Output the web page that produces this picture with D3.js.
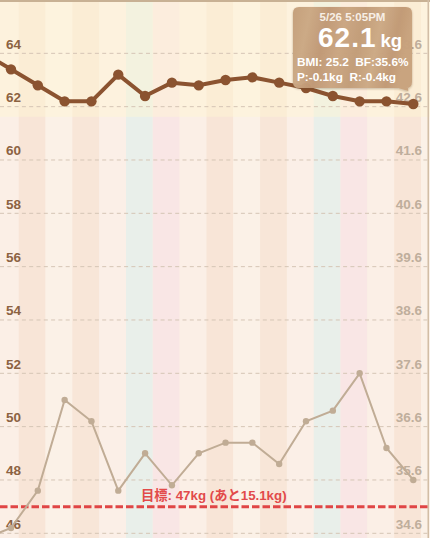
<!DOCTYPE html>
<html><head><meta charset="utf-8">
<script src="https://cdn.jsdelivr.net/npm/d3@7"></script>
<style>
html,body{margin:0;padding:0;background:#fbeee5;}
svg{display:block;}
text{font-family:"Liberation Sans",Arial,sans-serif;}
</style></head>
<body>
<svg id="chart" width="430" height="538"></svg>
<script>
// ---- data ----
const dates = ["2015-05-10","2015-05-11","2015-05-12","2015-05-13","2015-05-14","2015-05-15","2015-05-16","2015-05-17","2015-05-18","2015-05-19","2015-05-20","2015-05-21","2015-05-22","2015-05-23","2015-05-24","2015-05-25","2015-05-26"];
const times = ["17:05","17:05","17:05","17:05","17:05","17:05","17:05","17:05","17:05","17:05","17:05","17:05","17:05","17:05","17:05","17:05","17:05"];
const weight = [64.0,63.4,62.8,62.2,62.2,63.2,62.4,62.9,62.8,63.0,63.1,62.9,62.7,62.4,62.2,62.2,62.1];
const bodyFat = [34.5,34.7,35.4,37.1,36.7,35.4,36.1,35.5,36.1,36.3,36.3,35.9,36.7,36.9,37.6,36.2,35.6];
const viewRange = ["2015-05-11T07:15","2015-05-27T06:15"];
const weightTicks = [46,48,50,52,54,56,58,60,62,64];
const fatTicks = [34.6,35.6,36.6,37.6,38.6,39.6,40.6,41.6,42.6,43.6];
const goal = 47;
const goalLabel = "目標: 47kg (あと15.1kg)";
const tipDate = "5/26 5:05PM";
const tipWeight = "62.1";
const tipUnit = "kg";
const tipLine1 = "BMI: 25.2  BF:35.6%";
const tipLine2 = "P:-0.1kg  R:-0.4kg";
const weekdayColors = ["#f9e6e5","#fbefe6","#f8e5d7","#fbf1e7","#f8e6d8","#fbefe7","#e9efea"]; // Sun..Sat

// ---- setup ----
const W = 430, H = 538;
const svg = d3.select("#chart");
const parse = d3.timeParse("%Y-%m-%dT%H:%M");
const parseDay = d3.timeParse("%Y-%m-%d");
const pts = dates.map((d,i)=>({t:parse(d+"T"+times[i]), w:weight[i], f:bodyFat[i]}));

const x = d3.scaleTime().domain(viewRange.map(parse)).range([0,428]);
const y = d3.scaleLinear().domain([46,66]).range([533.3,0]);
const yR = d3.scaleLinear().domain([34.6,44.6]).range([533.3,0]);

// ---- day stripes ----
const days = d3.timeDay.range(parseDay(dates[0]), d3.timeDay.offset(parseDay(dates[dates.length-1]),2));
svg.append("g").selectAll("rect").data(days).join("rect")
  .attr("x", d=>x(d)).attr("y",0)
  .attr("width", d=>x(d3.timeDay.offset(d,1))-x(d)).attr("height",H)
  .attr("fill", d=>weekdayColors[d.getDay()]);

// upper highlight band
svg.append("rect").attr("x",0).attr("y",0).attr("width",W).attr("height",y(61.62))
  .attr("fill","#fff6d2").attr("opacity",0.45);

// borders
svg.append("rect").attr("x",0).attr("y",0).attr("width",W).attr("height",2).attr("fill","#c8b194");
svg.append("rect").attr("x",427.5).attr("y",0).attr("width",1.5).attr("height",H).attr("fill","#d2bea6");

// ---- gridlines ----
svg.append("g").selectAll("line").data(weightTicks).join("line")
  .attr("x1",0).attr("x2",428).attr("y1",d=>y(d)).attr("y2",d=>y(d))
  .attr("stroke","#d5c5b5").attr("stroke-width",1).attr("stroke-dasharray","4,3.3");

// left labels
svg.append("g").selectAll("text").data(weightTicks).join("text")
  .attr("x",6).attr("y",d=>y(d)-4.5)
  .attr("font-size",13.5).attr("font-weight","bold").attr("fill","#8c6242")
  .text(d=>d);
// right labels
svg.append("g").selectAll("text").data(fatTicks).join("text")
  .attr("x",422).attr("y",d=>yR(d)-4.5).attr("text-anchor","end")
  .attr("font-size",13.5).attr("font-weight","bold").attr("fill","#bfae9c")
  .text(d=>d.toFixed(1));

// ---- goal line ----
svg.append("line").attr("x1",0).attr("x2",428).attr("y1",y(goal)).attr("y2",y(goal))
  .attr("stroke","#e04545").attr("stroke-width",3).attr("stroke-dasharray","7.5,3");
svg.append("text").attr("x",141).attr("y",y(goal)-7)
  .attr("font-size",13.3).attr("font-weight","bold").attr("fill","#e24a4a")
  .style("font-family","'Liberation Sans','Noto Sans CJK JP',sans-serif")
  .text(goalLabel);

// ---- body fat line ----
svg.append("path").datum(pts)
  .attr("d", d3.line().x(d=>x(d.t)).y(d=>yR(d.f)))
  .attr("fill","none").attr("stroke","#c0ac95").attr("stroke-width",2);
svg.append("g").selectAll("circle").data(pts).join("circle")
  .attr("cx",d=>x(d.t)).attr("cy",d=>yR(d.f)).attr("r",3.2).attr("fill","#c0ac95");

// ---- weight line ----
svg.append("path").datum(pts)
  .attr("d", d3.line().x(d=>x(d.t)).y(d=>y(d.w)))
  .attr("fill","none").attr("stroke","#8b5330").attr("stroke-width",4).attr("stroke-linejoin","round");
svg.append("g").selectAll("circle").data(pts).join("circle")
  .attr("cx",d=>x(d.t)).attr("cy",d=>y(d.w)).attr("r",5.2).attr("fill","#8b5330");

// ---- tooltip ----
const defs = svg.append("defs");
const g1 = defs.append("linearGradient").attr("id","wood").attr("x1","0").attr("x2","1").attr("y1","0").attr("y2","0.15");
[["0","#c49e79"],["0.15","#cba884"],["0.3","#c09874"],["0.45","#caa581"],["0.6","#c29c77"],["0.75","#cca985"],["0.9","#c19974"],["1","#c8a27d"]]
  .forEach(s=>g1.append("stop").attr("offset",s[0]).attr("stop-color",s[1]));
const f = defs.append("filter").attr("id","sh").attr("x","-10%").attr("y","-10%").attr("width","130%").attr("height","130%");
f.append("feDropShadow").attr("dx",0).attr("dy",1).attr("stdDeviation",1.2).attr("flood-color","#5a3a20").attr("flood-opacity",0.35);

const last = pts[pts.length-1];
const tx = 293, ty = 7, tw = 119, th = 81, r = 6;
const px = x(last.t), py = y(last.w);
const tipPath = `M${tx+r},${ty} H${tx+tw-r} Q${tx+tw},${ty} ${tx+tw},${ty+r} V${ty+th-r} Q${tx+tw},${ty+th} ${tx+tw-r},${ty+th}
  H${tx+tw-4} L${px-5},${py-13} L${tx+tw-14},${ty+th} H${tx+r} Q${tx},${ty+th} ${tx},${ty+th-r} V${ty+r} Q${tx},${ty} ${tx+r},${ty} Z`;
svg.append("path").attr("d",tipPath).attr("fill","url(#wood)").attr("filter","url(#sh)").attr("opacity",0.97);

const cx = tx + tw/2;
svg.append("text").attr("x",cx).attr("y",21).attr("text-anchor","middle")
  .attr("font-size",11.5).attr("font-weight","bold").attr("fill","#f7efe6").text(tipDate);
const big = svg.append("text").attr("x",318).attr("y",47).attr("fill","#ffffff").attr("font-weight","bold");
big.append("tspan").attr("font-size",28).attr("letter-spacing",1).text(tipWeight);
big.append("tspan").attr("font-size",18.5).attr("dx",4).text(tipUnit);
svg.append("text").attr("x",297).attr("y",65.5)
  .attr("font-size",11.8).attr("font-weight","bold").attr("fill","#ffffff").style("white-space","pre").text(tipLine1);
svg.append("text").attr("x",297).attr("y",80.5)
  .attr("font-size",11.8).attr("font-weight","bold").attr("fill","#ffffff").style("white-space","pre").text(tipLine2);
</script>
</body></html>
